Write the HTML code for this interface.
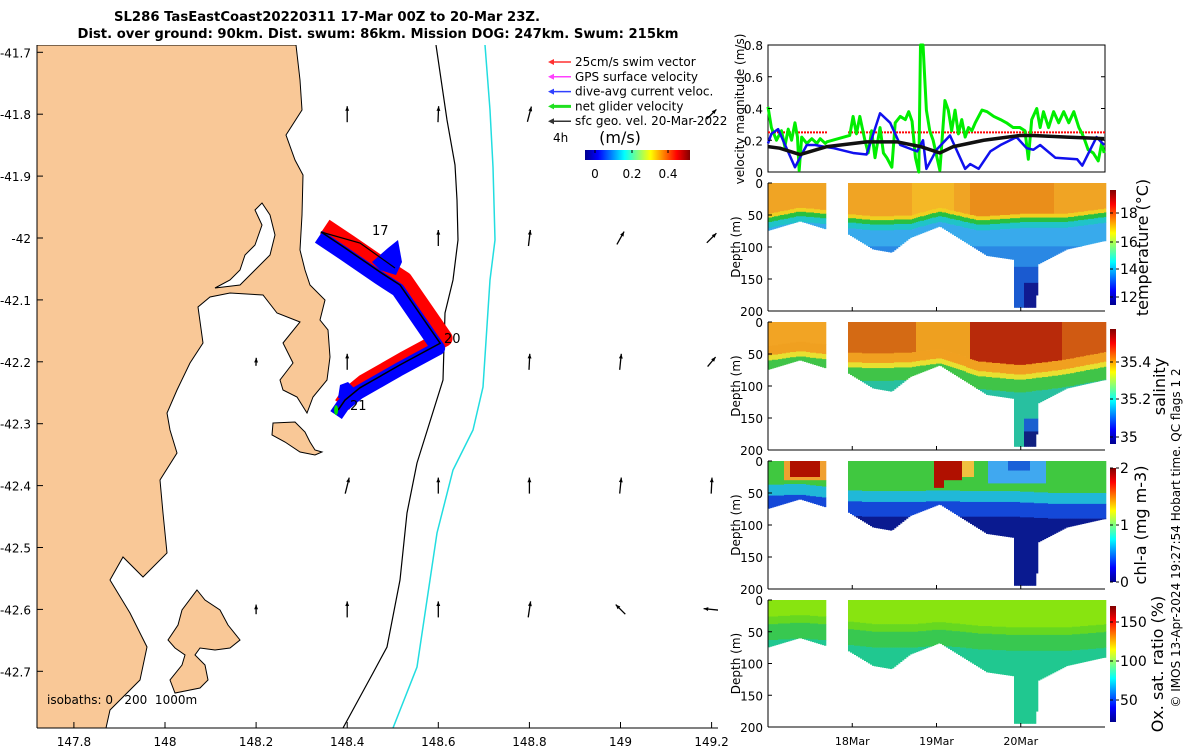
<!DOCTYPE html>
<html><head><meta charset="utf-8"><style>
html,body{margin:0;padding:0;background:#fff;}
svg{display:block;font-family:"DejaVu Sans","Liberation Sans",sans-serif;}
</style></head><body>
<svg id="fig" width="1200" height="750" viewBox="0 0 1200 750" xmlns="http://www.w3.org/2000/svg">
<defs>
<linearGradient id="jetV" x1="0" y1="1" x2="0" y2="0">
<stop offset="0" stop-color="#00008f"/><stop offset="0.125" stop-color="#0000ff"/><stop offset="0.375" stop-color="#00ffff"/><stop offset="0.625" stop-color="#ffff00"/><stop offset="0.875" stop-color="#ff0000"/><stop offset="1" stop-color="#800000"/>
</linearGradient>
<linearGradient id="jetH" x1="0" y1="0" x2="1" y2="0">
<stop offset="0" stop-color="#00008f"/><stop offset="0.125" stop-color="#0000ff"/><stop offset="0.375" stop-color="#00ffff"/><stop offset="0.625" stop-color="#ffff00"/><stop offset="0.875" stop-color="#ff0000"/><stop offset="1" stop-color="#800000"/>
</linearGradient>
<clipPath id="mapclip"><rect x="37" y="45" width="681" height="683"/></clipPath>
</defs>
<g font-weight="bold" font-size="13" text-anchor="middle">
<text x="327" y="21" textLength="426" lengthAdjust="spacingAndGlyphs">SL286 TasEastCoast20220311 17-Mar 00Z to 20-Mar 23Z.</text>
<text x="378" y="38" textLength="601" lengthAdjust="spacingAndGlyphs">Dist. over ground: 90km. Dist. swum: 86km. Mission DOG: 247km. Swum: 215km</text>
</g>
<g id="map"></g>
<g id="right"></g>
<text x="1180" y="538" font-size="12" text-anchor="middle" transform="rotate(-90 1180 538)">© IMOS 13-Apr-2024 19:27:54 Hobart time. QC flags 1  2</text>
</svg>
<script>
// ---------- data ----------
const velGreenT=[0,.04,.10,.16,.20,.24,.28,.32,.35,.37,.40,.46,.52,.58,.62,.68,.70,.97,1.01,1.05,1.09,1.15,1.19,1.23,1.27,1.33,1.37,1.41,1.47,1.51,1.57,1.63,1.67,1.71,1.75,1.79,1.81,1.84,1.88,1.92,1.96,2.04,2.10,2.14,2.18,2.22,2.26,2.30,2.34,2.38,2.42,2.46,2.50,2.54,2.60,2.68,2.76,2.83,2.91,2.99,3.05,3.09,3.13,3.19,3.23,3.27,3.33,3.39,3.45,3.51,3.57,3.63,3.69,3.73,3.76,3.80,3.86,3.92,3.96,3.99];
const velGreenV=[.41,.28,.20,.26,.16,.27,.20,.31,.22,.01,.22,.18,.21,.18,.21,.18,.19,.23,.35,.24,.35,.20,.12,.26,.09,.28,.12,.09,.03,.31,.35,.33,.38,.32,.09,0,.8,.8,.39,.26,.20,.01,.45,.39,.26,.39,.24,.33,.22,.28,.26,.31,.35,.39,.38,.35,.33,.31,.28,.28,.26,.08,.33,.40,.28,.38,.28,.38,.31,.38,.31,.38,.28,.24,.20,.14,.12,.07,.18,.12];
const velBlueT=[0,.04,.12,.32,.46,.56,.66,.78,1.01,1.17,1.33,1.45,1.57,1.77,1.84,1.88,2.0,2.16,2.34,2.40,2.50,2.64,2.76,2.95,3.07,3.15,3.23,3.41,3.67,3.73,3.90,3.99];
const velBlueV=[.18,.24,.27,.03,.17,.17,.16,.15,.12,.11,.37,.31,.17,.13,.20,.02,.14,.23,.02,.05,.02,.13,.17,.22,.15,.14,.17,.09,.08,.04,.22,.17];
const velBlackT=[0,.14,.38,.70,1.17,1.53,1.81,2.04,2.20,2.56,2.99,3.15,3.55,3.99];
const velBlackV=[.16,.15,.11,.16,.19,.19,.16,.12,.16,.20,.23,.23,.22,.21];
const swimSpeed=0.25;
const velTicks=[0,0.2,0.4,0.6,0.8];
const profT=[0,.38,.70,.95,1.25,1.47,1.69,2.04,2.60,2.91,2.93,3.19,3.20,3.55,3.99];
const profBottom=[75,60,73,80,104,109,86,68,114,120,195,195,128,104,91];
const gapStart=0.70, gapEnd=0.95;
const mldT=[0,.38,.70,.95,1.3,1.7,2.04,2.5,3.0,3.5,3.99];
const mldTemp=[58,48,52,58,62,60,48,62,58,58,50];
const mldSal=[62,55,60,72,74,72,66,86,92,84,72];
const mldChl=[42,40,45,50,52,52,50,52,52,55,55];
const mldOx=[38,35,38,45,50,50,46,52,55,55,50];
const depthTicks=[0,50,100,150,200];
const dateTicks=[1,2,3];
const dateLabels=["18Mar","19Mar","20Mar"];
// map data
const lonTicks=[147.8,148,148.2,148.4,148.6,148.8,149,149.2];
const latTicks=[-41.7,-41.8,-41.9,-42,-42.1,-42.2,-42.3,-42.4,-42.5,-42.6,-42.7];
const trackLon=[148.342,148.395,148.472,148.516,148.604,148.516,148.428,148.395,148.380];
const trackLat=[-41.990,-42.016,-42.055,-42.076,-42.170,-42.205,-42.242,-42.262,-42.278];
const geoLon=[148.4,148.6,148.8,149.2, 148.6,148.8,149.0,149.2, 148.2,148.4,148.8,149.0,149.2, 148.4,148.6,148.8,149.0,149.2, 148.2,148.4,148.6,148.8,149.0,149.2, 148.2,148.4,148.6,148.8,149.0];
const geoLat=[-41.8,-41.8,-41.8,-41.8, -42,-42,-42,-42, -42.2,-42.2,-42.2,-42.2,-42.2, -42.4,-42.4,-42.4,-42.4,-42.4, -42.6,-42.6,-42.6,-42.6,-42.6,-42.6, -42.8,-42.8,-42.8,-42.8,-42.8];
const geoU=[0,.04,.25,.6, 0,.12,.45,.6, .02,0,.05,.1,.5, .25,0,0,.1,.05, 0,0,0,.15,-.6,-1, 0,0,0,0,0];
const geoV=[1,1,.95,.6, 1,1,.8,.6, .5,1,1,1,.6, 1,1,1,1,1, .6,1,1,1,.6,.1, .5,.6,.5,.5,.4];

// ---------- helpers ----------
const NS="http://www.w3.org/2000/svg";
function mk(tag,attrs,parent){const e=document.createElementNS(NS,tag);for(const k in attrs)e.setAttribute(k,attrs[k]);parent.appendChild(e);return e;}
function interp(xs,ys,x){if(x<=xs[0])return ys[0];for(let i=1;i<xs.length;i++){if(x<=xs[i]){const f=(x-xs[i-1])/(xs[i]-xs[i-1]||1);return ys[i-1]+f*(ys[i]-ys[i-1]);}}return ys[ys.length-1];}

// ---------- map ----------
const map=document.getElementById('map');
const mx=lon=>165+(lon-148)*455.5;
const my=lat=>238+(-42-lat)*619;
const mg=mk('g',{'clip-path':'url(#mapclip)'},map);
const land=mk('polygon',{points:"37,45 296,45 300,80 302,110 286,135 295,160 303,175 302,215 300,250 305,270 310,285 325,300 320,320 328,330 330,357 327,380 313,397 307,413 297,397 283,390 280,380 293,363 283,343 300,322 277,313 263,295 230,293 210,297 198,307 203,343 190,363 177,390 167,413 170,430 177,453 160,480 163,513 167,553 143,577 123,557 110,580 130,613 147,647 140,680 110,710 106,728 37,728",fill:"#f9c897",stroke:"#000","stroke-width":"1"},mg);


const lag=mk('polygon',{points:"262,203 270,215 275,235 270,255 255,270 240,285 215,288 230,280 240,270 245,255 255,245 262,225 255,210",fill:"#fff",stroke:"#000","stroke-width":"1"},mg);


const sch=mk('polygon',{points:"273,423 295,422 305,432 310,442 315,450 322,452 315,455 300,452 285,442 272,435",fill:"#f9c897",stroke:"#000","stroke-width":"1"},mg);


const mar=mk('polygon',{points:"197,590 205,600 220,610 228,625 240,640 230,648 215,650 200,648 195,655 205,665 208,680 200,688 175,693 170,680 182,665 185,655 175,648 168,640 178,625 182,610",fill:"#f9c897",stroke:"#000","stroke-width":"1"},mg);


const iso200=mk('polyline',{points:"436,45 447,120 455,165 457,200 458,240 453,280 445,313 443,380 417,463 407,513 400,580 387,647 373,673 343,728",fill:"none",stroke:"#000","stroke-width":"1.2"},mg);


const iso1000=mk('polyline',{points:"485,45 490,110 493,167 495,240 490,280 483,387 473,430 453,470 437,533 417,667 393,728",fill:"none",stroke:"#22dde0","stroke-width":"1.5"},mg);


// track swath
const tp=trackLon.map((l,i)=>[mx(l),my(trackLat[i])]);
const red=mk('polyline',{points:tp.map(p=>(p[0]+4)+","+(p[1]-5)).join(" "),fill:"none",stroke:"#ff0000","stroke-width":"17","stroke-linejoin":"round"},mg);


const blue=mk('polyline',{points:tp.map(p=>(p[0]-2)+","+(p[1]+5)).join(" "),fill:"none",stroke:"#0000ff","stroke-width":"14","stroke-linejoin":"round"},mg);


const blob1=mk('polygon',{points:"372,262 388,248 398,240 402,262 396,275 380,270",fill:"#0000ff"},mg);


const blob2=mk('polygon',{points:"340,385 348,382 358,392 345,400 338,398",fill:"#0000ff"},mg);


const trk=mk('polyline',{points:tp.map(p=>p.join(",")).join(" "),fill:"none",stroke:"#000","stroke-width":"1.5"},mg);


const trk2=mk('polyline',{points:[[321,232],[360,243],[395,268]].map(p=>p.join(",")).join(" "),fill:"none",stroke:"#000","stroke-width":"1.2"},mg);


mk('ellipse',{cx:tp[8][0]-2,cy:tp[8][1],rx:2,ry:5,fill:"#00e000"},mg);
[["17",372,235],["20",444,343],["21",350,410]].forEach(d=>{const t=mk('text',{x:d[1],y:d[2],'font-size':'13'},mg);t.textContent=d[0];

});
// geo arrows
geoLon.forEach((l,i)=>{const cx=mx(l),cy=my(geoLat[i]);const L=16;const dx=geoU[i]*L,dy=-geoV[i]*L;
const x1=cx-dx/2,y1=cy-dy/2,x2=cx+dx/2,y2=cy+dy/2;
const g=mk('g',{},mg);


mk('line',{x1:x1,y1:y1,x2:x2,y2:y2,stroke:'#000','stroke-width':'1.3'},g);
const ang=Math.atan2(dy,dx);const hl=5;
mk('polygon',{points:`${x2},${y2} ${x2-hl*Math.cos(ang-0.4)},${y2-hl*Math.sin(ang-0.4)} ${x2-hl*Math.cos(ang+0.4)},${y2-hl*Math.sin(ang+0.4)}`,fill:'#000'},g);});
const isot=mk('text',{x:47,y:704,'font-size':'12',style:'white-space:pre'},mg);isot.textContent="isobaths: 0   200  1000m";


// axes
mk('line',{x1:37,y1:45,x2:37,y2:728,stroke:'#000','stroke-width':'1'},map);
mk('line',{x1:37,y1:728,x2:718,y2:728,stroke:'#000','stroke-width':'1'},map);
lonTicks.forEach(v=>{const x=mx(v);mk('line',{x1:x,y1:728,x2:x,y2:722,stroke:'#000'},map);
const t=mk('text',{x:x,y:746,'font-size':'12','text-anchor':'middle'},map);t.textContent=String(v);

});
latTicks.forEach(v=>{const y=my(v);mk('line',{x1:37,y1:y,x2:43,y2:y,stroke:'#000'},map);
const t=mk('text',{x:31,y:y+5,'font-size':'12','text-anchor':'end'},map);t.textContent=String(v);

});
// legend
const leg=mk('g',{},map);


[["25cm/s swim vector","#ff3030"],["GPS surface velocity","#ff40ff"],["dive-avg current veloc.","#3040ff"],["net glider velocity","#20e020"],["sfc geo. vel. 20-Mar-2022","#333"]].forEach((d,i)=>{
const y=62+i*14.8;
const e=mk('g',{},leg);


mk('line',{x1:551,y1:y,x2:571,y2:y,stroke:d[1],'stroke-width':i==3?'3':'1.5'},e);
mk('polygon',{points:`${548},${y} ${554},${y-3} ${554},${y+3}`,fill:d[1]},e);
const t=mk('text',{x:575,y:y+4,'font-size':'12'},e);t.textContent=d[0];});
const t4=mk('text',{x:553,y:142,'font-size':'12'},leg);t4.textContent="4h";
const tm=mk('text',{x:620,y:143,'font-size':'16','text-anchor':'middle'},leg);tm.textContent="(m/s)";
mk('rect',{x:585,y:150,width:105,height:10,fill:'url(#jetH)'},leg);
[[0,595],[0.2,632],[0.4,668]].forEach(d=>{mk('line',{x1:d[1],y1:150,x2:d[1],y2:153,stroke:'#000'},leg);const t=mk('text',{x:d[1],y:178,'font-size':'12','text-anchor':'middle'},leg);t.textContent=String(d[0]);});

// ---------- right panels ----------
const R=document.getElementById('right');
const X0=768,X1=1105;
const tx=t=>X0+t*(X1-X0)/4;
// velocity panel
const VY0=172,VY1=45;
const vy=v=>VY0-(v/0.8)*(VY0-VY1);
const vp=mk('g',{},R);


mk('rect',{x:X0,y:VY1,width:X1-X0,height:VY0-VY1,fill:'#fff',stroke:'#000','stroke-width':'1'},vp);
const sw1=mk('line',{x1:tx(0),y1:vy(swimSpeed),x2:tx(gapStart),y2:vy(swimSpeed),stroke:'#ff0000','stroke-width':'2','stroke-dasharray':'2,1'},vp);


const sw2=mk('line',{x1:tx(gapEnd),y1:vy(swimSpeed),x2:tx(4),y2:vy(swimSpeed),stroke:'#ff0000','stroke-width':'2','stroke-dasharray':'2,1'},vp);


function series(T,V,col,w,name){const p=mk('polyline',{points:T.map((t,i)=>tx(t)+","+vy(V[i])).join(" "),fill:'none',stroke:col,'stroke-width':w,'stroke-linejoin':'round'},vp);

}
series(velGreenT,velGreenV,'#00ee00','3','net-glider-velocity-line');
series(velBlueT,velBlueV,'#1010ee','2.5','dive-avg-current-line');
series(velBlackT,velBlackV,'#111','3.5','geo-velocity-line');
velTicks.forEach(v=>{const y=vy(v);mk('line',{x1:X0,y1:y,x2:X0+4,y2:y,stroke:'#000'},vp);mk('line',{x1:X1,y1:y,x2:X1-4,y2:y,stroke:'#000'},vp);
const t=mk('text',{x:763,y:y+5,'font-size':'12','text-anchor':'end'},vp);t.textContent=String(v);

});
const vl=mk('text',{x:744,y:109,'font-size':'12','text-anchor':'middle',transform:'rotate(-90 744 109)'},vp);vl.textContent="velocity magnitude (m/s)";



// sections
const panels=[
 {name:'temperature',y0:183,y1:311,label:'temperature (°C)',lx:1148,lfs:16,cb:[[18,213],[16,242],[14,269],[12,297]],cbY:[190,305],mld:mldTemp},
 {name:'salinity',y0:322,y1:450,label:'salinity',lx:1165,lfs:16,cb:[[35.4,362],[35.2,399],[35,437]],cbY:[329,444],mld:mldSal},
 {name:'chl-a',y0:461,y1:589,label:'chl-a (mg m-3)',lx:1146,lfs:16,cb:[[2,468],[1,525],[0,582]],cbY:[468,582],mld:mldChl},
 {name:'oxygen',y0:600,y1:727,label:'Ox. sat. ratio (%)',lx:1163,lfs:16,cb:[[150,622],[100,661],[50,700]],cbY:[606,722],mld:mldOx}
];
function colTemp(t,d,m,b){
 if(d<m-10)return (t>2.4&&t<3.4)?'#ea8e1a':(t>1.7&&t<2.2?'#f4b826':'#f0a424');
 if(d<m-4)return '#f0d020'; if(d<m+3)return '#28c040'; if(d<m+12)return '#20c4c8';
 if(d>155&&t>3.05)return '#101a90'; if(d>130)return '#1a5ad0'; if(d>98)return '#2a88e4'; return '#38aaec';}
function colSal(t,d,m,b){
 if(d<m-25){ if(t<0.75)return '#f2a424'; if(t<1.75)return '#d46a14'; if(t<2.4)return '#eea020'; if(t<3.5)return '#b82a0a'; return '#d05a12';}
 if(d<m-10)return '#f0a020'; if(d<m-2)return '#e8e030'; if(d<m+18)return '#40c448';
 if(d>150&&t>3.05)return d>170?'#102080':'#1a60d0'; return '#28c0a0';}
function colChl(t,d,m,b){
 if(t>0.25&&t<0.62&&d<25)return '#b01000';
 if(t>1.97&&t<2.3&&d<(t<2.1?42:30))return '#b01000';
 if(t>0.18&&t<0.68&&d<30)return '#f0a030';
 if(t>2.3&&t<2.45&&d<25)return '#f0c040';
 if(t>2.6&&t<3.3&&d<35)return (d<15&&t>2.85&&t<3.1)?'#1a60d8':'#40a8f0';
 if(d<m-5)return '#40c840'; if(d<m+12)return '#20b8d8'; if(d<m+35)return '#1448d8'; return '#0a1a90';}
function colOx(t,d,m,b){
 if(d<m-12)return '#88e410'; if(d<m)return '#66d820'; if(d<m+25)return '#38c850'; return '#20c890';}
const colFns=[colTemp,colSal,colChl,colOx];
panels.forEach((P,pi)=>{
 const g=mk('g',{},R);
 
 
 const dy=d=>P.y0+d/200*(P.y1-P.y0);
 const step=2;
 for(let x=X0;x<X1;x+=step){
  const t=((x+step/2)-X0)/(X1-X0)*4;
  if(t>gapStart&&t<gapEnd)continue;
  const b=interp(profT,profBottom,t);const m=interp(mldT,P.mld,t);
  let d=0;let cur=colFns[pi](t,0,m,b);let start=0;
  for(d=1;d<=b;d+=1){const c=colFns[pi](t,d,m,b);if(c!==cur){mk('rect',{x:x,y:dy(start),width:step+0.3,height:dy(d)-dy(start)+0.3,fill:cur},g);start=d;cur=c;}}
  mk('rect',{x:x,y:dy(start),width:step+0.3,height:dy(b)-dy(start),fill:cur},g);
 }
 mk('line',{x1:X0,y1:P.y0,x2:X0,y2:P.y1,stroke:'#000'},g);
 mk('line',{x1:X0,y1:P.y1,x2:X1,y2:P.y1,stroke:'#000'},g);
 depthTicks.forEach(v=>{const y=dy(v);mk('line',{x1:X0,y1:y,x2:X0+4,y2:y,stroke:'#000'},g);
  const t=mk('text',{x:763,y:y+5,'font-size':'12','text-anchor':'end'},g);t.textContent=String(v);
  
  });
 dateTicks.forEach(v=>{mk('line',{x1:tx(v),y1:P.y1,x2:tx(v),y2:P.y1-4,stroke:'#000'},g);});
 const cy=(P.y0+P.y1)/2;
 const yl=mk('text',{x:740,y:cy,'font-size':'12','text-anchor':'middle',transform:`rotate(-90 740 ${cy})`},g);yl.textContent="Depth (m)";
 
 
 const cb=mk('g',{},g);
 
 
 mk('rect',{x:1110,y:P.cbY[0],width:6,height:P.cbY[1]-P.cbY[0],fill:'url(#jetV)'},cb);
 P.cb.forEach(c=>{mk('line',{x1:1110,y1:c[1],x2:1113,y2:c[1],stroke:'#000'},cb);mk('line',{x1:1116,y1:c[1],x2:1119,y2:c[1],stroke:'#000'},cb);
  const t=mk('text',{x:1120,y:c[1]+5,'font-size':'14'},cb);t.textContent=String(c[0]);});
 const lcy=(P.cbY[0]+P.cbY[1])/2;
 const lab=mk('text',{x:P.lx,y:lcy,'font-size':P.lfs,'text-anchor':'middle',transform:`rotate(-90 ${P.lx} ${lcy})`},cb);lab.textContent=P.label;
 
 
});
dateTicks.forEach((v,i)=>{const t=mk('text',{x:tx(v),y:745,'font-size':'11','text-anchor':'middle'},R);t.textContent=dateLabels[i];

});
</script>
</body></html>
